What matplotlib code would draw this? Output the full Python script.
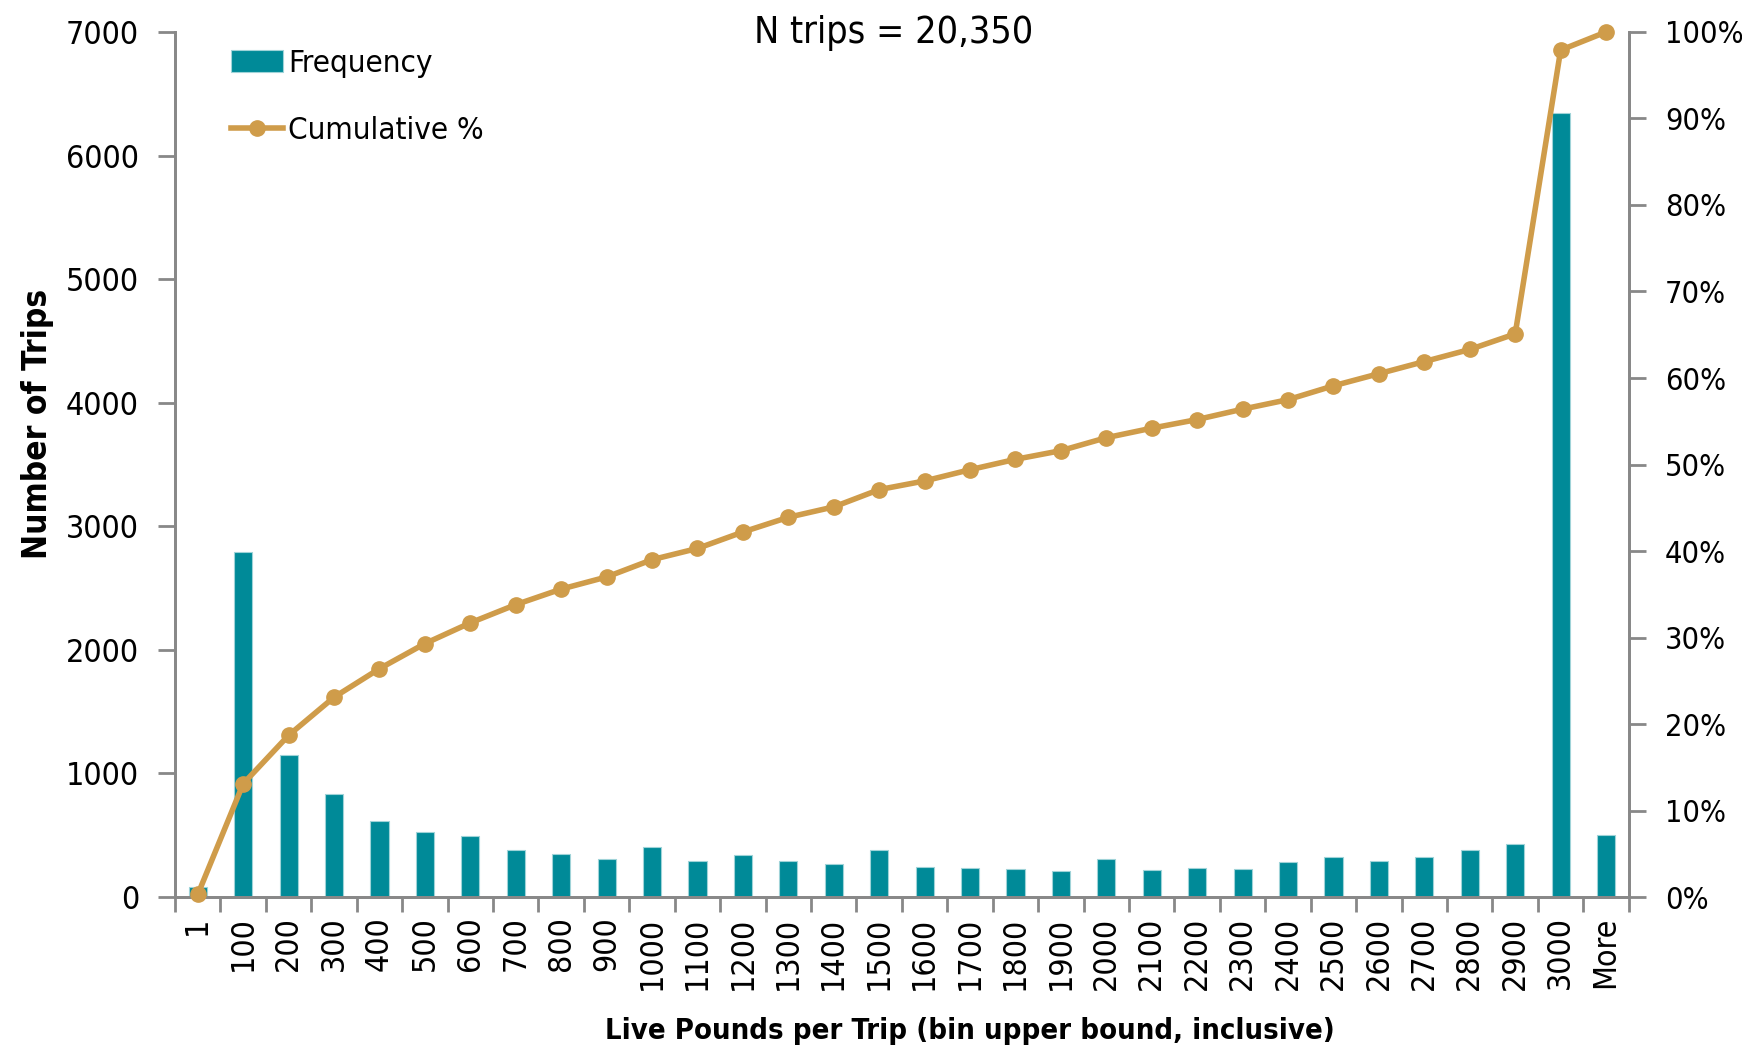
import matplotlib
matplotlib.use("Agg")
import matplotlib.pyplot as plt
from matplotlib import font_manager as fm
import numpy as np
from matplotlib.ticker import MultipleLocator, FuncFormatter

# look for a narrow sans face (the original uses an Arial Narrow look)
narrow = None
for f in fm.fontManager.ttflist:
    nm = f.name.lower()
    if ("narrow" in nm or "condensed" in nm or str(f.stretch) in ("condensed", "semi-condensed", 600, 500)) and "sans" in nm:
        narrow = f
        break
if narrow is not None:
    plt.rcParams['font.family'] = [narrow.name, 'DejaVu Sans']
    plt.rcParams['font.stretch'] = narrow.stretch
else:
    plt.rcParams['font.family'] = ['Liberation Sans', 'DejaVu Sans']

bins = ["1", "100", "200", "300", "400", "500", "600", "700", "800", "900",
        "1000", "1100", "1200", "1300", "1400", "1500", "1600", "1700", "1800",
        "1900", "2000", "2100", "2200", "2300", "2400", "2500", "2600", "2700",
        "2800", "2900", "3000", "More"]

frequency = [81, 2790, 1150, 835, 614, 528, 496, 380, 350, 310,
             404, 291, 340, 291, 267, 382, 245, 234, 229, 213,
             307, 218, 237, 226, 281, 326, 293, 323, 380, 428,
             6346, 501]

cumulative_pct = [0.3, 13.1, 18.7, 23.1, 26.4, 29.3, 31.7, 33.8, 35.6, 37.0,
                  39.0, 40.3, 42.2, 43.9, 45.1, 47.1, 48.1, 49.4, 50.6, 51.6,
                  53.1, 54.2, 55.2, 56.4, 57.5, 59.1, 60.5, 61.9, 63.3, 65.1,
                  97.9, 100.0]

teal = "#008A98"
gold = "#CF9C4A"
axis_gray = "#888888"

fig = plt.figure(figsize=(17.42, 10.52), dpi=100)
ax = fig.add_axes([0.1005, 0.1473, 0.8345, 0.8223])
ax2 = ax.twinx()

x = np.arange(len(bins))
bars = ax.bar(x, frequency, width=0.4, color=teal, edgecolor="#9FD3D8",
              linewidth=0.8, label="Frequency", zorder=2)
line, = ax2.plot(x, cumulative_pct, color=gold, lw=4, marker="o",
                 markersize=11, label="Cumulative %", zorder=3, clip_on=False)

ax.set_xlim(-0.5, len(bins) - 0.5)
ax.set_ylim(0, 7000)
ax2.set_ylim(0, 100)
ax.yaxis.set_major_locator(MultipleLocator(1000))
ax2.yaxis.set_major_locator(MultipleLocator(10))
ax2.yaxis.set_major_formatter(FuncFormatter(lambda v, p: f"{v:.0f}%"))

# categories sit between the ticks, Excel style
ax.set_xticks(x)
ax.set_xticklabels(bins, rotation=90, fontsize=23)
ax.set_xticks(np.arange(-0.5, len(bins)), minor=True)
ax.tick_params(axis="x", which="major", length=0, pad=14)
ax.tick_params(axis="x", which="minor", length=11, width=2, color=axis_gray)
ax.tick_params(axis="y", length=12, width=2, color=axis_gray, labelsize=23, pad=14)
ax2.tick_params(axis="y", length=12, width=2, color=axis_gray, labelsize=22, pad=14)

for a in (ax, ax2):
    a.spines["top"].set_visible(False)
    for s in ("left", "right", "bottom"):
        a.spines[s].set_color(axis_gray)
        a.spines[s].set_linewidth(2)
ax2.set_zorder(ax.get_zorder() + 1)
ax2.patch.set_visible(False)

ax.set_ylabel("Number of Trips", fontsize=24, fontweight="bold")
ax.yaxis.set_label_coords(-0.083, 0.547)
fig.text(0.557, 0.02, "Live Pounds per Trip (bin upper bound, inclusive)",
         ha="center", va="center", fontsize=21, fontweight="bold")
fig.text(0.513, 0.969, "N trips = 20,350", ha="center", va="center", fontsize=27)

leg = ax.legend([bars, line], ["Frequency", "Cumulative %"], loc="upper left",
                bbox_to_anchor=(0.0385, 0.98), frameon=False, fontsize=22.5,
                borderaxespad=0, borderpad=0,
                handlelength=1.67, handletextpad=0.15, labelspacing=1.2)

fig.savefig("out.png", dpi=100)
